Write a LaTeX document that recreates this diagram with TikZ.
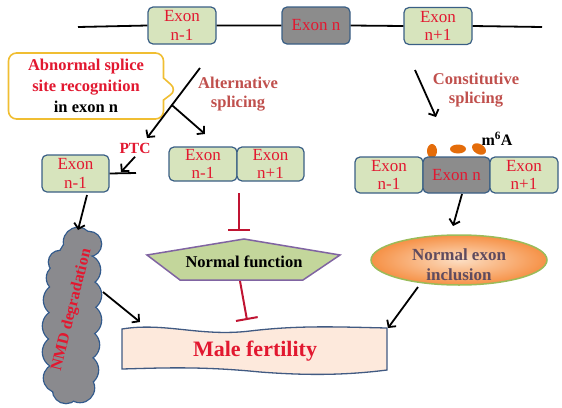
\documentclass[tikz,border=0pt]{standalone}
\usepackage{fontspec}
\setmainfont{Liberation Serif}
\usetikzlibrary{arrows.meta,shapes.geometric,shapes.callouts}
\definecolor{exgreen}{RGB}{215,228,189}
\definecolor{exborder}{RGB}{58,95,133}
\definecolor{exgray}{RGB}{140,140,140}
\definecolor{exred}{RGB}{226,24,48}
\definecolor{labred}{RGB}{192,80,77}
\definecolor{inhred}{RGB}{192,20,50}
\definecolor{pentfill}{RGB}{195,214,155}
\definecolor{pentdraw}{RGB}{128,100,162}
\definecolor{banfill}{RGB}{253,233,220}
\definecolor{bandraw}{RGB}{65,90,130}
\definecolor{cloudfill}{RGB}{138,138,142}
\definecolor{clouddraw}{RGB}{50,90,140}
\definecolor{elldraw}{RGB}{155,187,89}
\definecolor{elltext}{RGB}{95,75,95}
\definecolor{mdot}{RGB}{228,108,10}
\definecolor{callgold}{RGB}{240,190,50}
\begin{document}
\begin{tikzpicture}[x=1pt,y=-1pt,
  exonbox/.style={draw=exborder,fill=exgreen,rounded corners=5pt,line width=1.2pt,
    minimum width=68pt,minimum height=37pt,inner sep=0pt,text=exred,align=center,
    font=\fontsize{17}{18.5}\selectfont},
  exongray/.style={exonbox,fill=exgray},
  conn/.style={draw=black,line width=1.8pt,-{Straight Barb[length=5pt,width=11pt]}},
  plainline/.style={draw=black,line width=1.8pt},
  inhib/.style={draw=inhred,line width=2pt,-{Bar[width=22pt,line width=2pt]}},
  labtext/.style={text=labred,align=center,font=\bfseries\fontsize{16.5}{19}\selectfont},
]
\useasboundingbox (0,0) rectangle (562,407);

% top gene
\coordinate (lineL) at (78,27);
\coordinate (lineR) at (542,27);
\node[exonbox] (t1) at (182,25.5) {Exon\\n-1};
\node[exongray] (t2) at (316,25.5) {Exon n};
\node[exonbox] (t3) at (438,26) {Exon\\n+1};
\draw[line width=1.8pt] (lineL) -- (t1.west) (t1.east) -- (t2.west) (t2.east) -- (t3.west) (t3.east) -- (lineR);

% callout
\node[rectangle callout,draw=callgold,fill=white,line width=1.6pt,rounded corners=8pt,
  minimum width=155pt,minimum height=66pt,callout pointer width=22pt,
  callout absolute pointer={(177,90)},align=center,inner sep=2pt,
  font=\bfseries\fontsize{16.5}{21}\selectfont] (abn) at (86,86)
  {\textcolor{exred}{Abnormal splice}\\\textcolor{exred}{site recognition}\\in exon n};

% alternative splicing
\coordinate (as1) at (200,68);
\coordinate (as2) at (147,138);
\coordinate (asr) at (205,134);
\draw[conn] (as1) -- (as2) coordinate[pos=.53] (asb);
\draw[conn] (asb) -- (asr);
\node[labtext] (altlab) at (238,94) {Alternative\\splicing};

% left exon with PTC
\node[exonbox,minimum width=67pt] (le) at (75.5,173.5) {Exon\\n-1};
\coordinate (ptcend) at (136,173);
\draw[plainline] (le.east) -- (ptcend);
\node[text=exred,font=\bfseries\fontsize{15.5}{17}\selectfont] (ptc) at (135,148) {PTC};
\coordinate (ptctip) at (121,172);
\draw[conn] (ptc.south) -- (ptctip);

% middle exon pair
\node[exonbox,minimum height=34pt] (ml) at (203,164) {Exon\\n-1};
\node[exonbox,minimum height=34pt,minimum width=67pt] (mr) at (270.5,164) {Exon\\n+1};

% inhibitor to normal function
\coordinate (i1s) at (239,193);
\coordinate (i1e) at (239,231);
\draw[inhib] (i1s) -- (i1e);

% pentagon
\coordinate (p1) at (244,239);
\coordinate (p2) at (340,255);
\coordinate (p3) at (303,280);
\coordinate (p4) at (180,280);
\coordinate (p5) at (147,255);
\filldraw[fill=pentfill,draw=pentdraw,line width=1.5pt] (p1) -- (p2) -- (p3) -- (p4) -- (p5) -- cycle;
\node[font=\bfseries\fontsize{16.5}{19}\selectfont] (nf) at (244,262) {Normal function};

\coordinate (i2s) at (240,281);
\coordinate (i2e) at (247,320);
\draw[inhib] (i2s) -- (i2e);

% NMD cloud (union of puffs)
\def\puffs{60/262/11, 78/242/14, 89/244/12, 85/270/15, 86/295/15, 85/320/16,
  84/345/15, 83/370/15, 80/388/14, 66/390/13, 58/378/14, 59/352/16,
  59/326/16, 60/300/16, 61/278/14}
\foreach \px/\py/\pr in \puffs {\draw[clouddraw,line width=2.6pt] (\px,\py) circle [radius=\pr pt];}
\draw[clouddraw,line width=2.6pt] (72,315) ellipse [x radius=22pt,y radius=75pt];
\foreach \px/\py/\pr in \puffs {\fill[cloudfill] (\px,\py) circle [radius=\pr pt];}
\fill[cloudfill] (72,315) ellipse [x radius=22pt,y radius=75pt];
\node[rotate=76,text=exred,font=\bfseries\fontsize{16}{18}\selectfont] (nmd) at (72,310) {NMD degradation};
\coordinate (le2) at (87,195);
\coordinate (nmdtop) at (78,230);
\draw[conn] (le2) -- (nmdtop);

% banner
\filldraw[fill=banfill,draw=bandraw,line width=1.3pt]
  (122,329) .. controls (165,322) and (200,337) .. (250,331)
  .. controls (300,325) and (340,327) .. (387,328)
  -- (387,370)
  .. controls (340,376) and (300,375) .. (260,372)
  .. controls (200,366) and (160,368) .. (122,369) -- cycle;
\node[text=exred,font=\bfseries\fontsize{22}{24}\selectfont] (mf) at (255,351) {Male fertility};
\coordinate (bnl) at (140,322);
\coordinate (bnr) at (388,328);
\coordinate (nmdr) at (103,292);
\draw[conn] (nmdr) -- (bnl);

% constitutive
\coordinate (cs1) at (415,70);
\coordinate (cs2) at (436,117);
\draw[conn] (cs1) -- (cs2);
\node[labtext] (conlab) at (476,90) {Constitutive\\splicing};

% m6A
\fill[mdot] (432,151) ellipse [x radius=5pt,y radius=7pt];
\fill[mdot] (458,149) ellipse [x radius=8pt,y radius=4.5pt];
\fill[mdot,rotate around={-30:(479,149)}] (479,149) ellipse [x radius=7.5pt,y radius=5pt];
\node[font=\bfseries\fontsize{16}{18}\selectfont] (m6a) at (497,139) {m\textsuperscript{6}A};

% right exon triple
\node[exonbox,minimum height=36pt] (r1) at (389,175) {Exon\\n-1};
\node[exongray,minimum height=36pt,minimum width=67pt] (r2) at (456.5,175) {Exon n};
\node[exonbox,minimum height=36pt] (r3) at (524,175) {Exon\\n+1};

% ellipse
\node[ellipse,minimum width=176pt,minimum height=50pt,draw=elldraw,line width=1.5pt,
  inner color={rgb,255:red,252;green,222;blue,195},outer color={rgb,255:red,246;green,145;blue,70}] (nei) at (459,260) {};
\node[text=elltext,align=center,font=\bfseries\fontsize{17}{20}\selectfont] (neit) at (459,265) {Normal exon\\inclusion};
\coordinate (r2b) at (462,194);
\coordinate (neitop) at (453,226);
\draw[conn] (r2b) -- (neitop);
\coordinate (neib) at (418,287);
\draw[conn] (neib) -- (bnr);
\end{tikzpicture}
\end{document}
